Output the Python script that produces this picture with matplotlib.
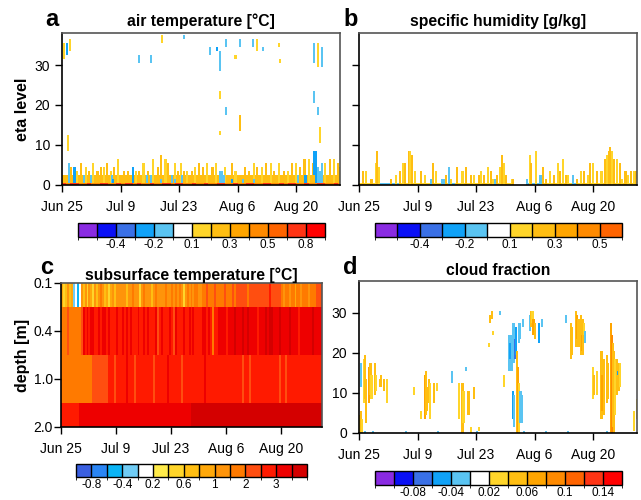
import numpy as np
import matplotlib
matplotlib.use('Agg')
import matplotlib.pyplot as plt
import matplotlib.dates as mdates
from matplotlib.colors import ListedColormap, BoundaryNorm
from matplotlib.cm import ScalarMappable
from datetime import datetime

plt.rcParams['font.family'] = ['Liberation Sans', 'DejaVu Sans']
plt.rcParams['axes.unicode_minus'] = False

# --- time axis (6-hourly steps from Jun 25) ---
start = datetime(2016, 6, 25)
span_days = 66.5
n_steps = 266
tick_dates = ['2016-06-25', '2016-07-09', '2016-07-23', '2016-08-06', '2016-08-20']
tick_labels = ['Jun 25', 'Jul 9', 'Jul 23', 'Aug 6', 'Aug 20']
n_levels = 39

# --- colour scales ---
cols_13 = ['#8A2BE2', '#0A10F5', '#3A70E6', '#10A2F8', '#5AC4F2', '#FFFFFF',
           '#FFD52A', '#FFBE12', '#FFA500', '#FF8A00', '#FF6400', '#FF3414', '#FF0000']
bounds_a = [-0.6, -0.5, -0.4, -0.3, -0.2, -0.1, 0.1, 0.2, 0.3, 0.4, 0.5, 0.6, 0.8, 1.0]
ticks_a = [-0.4, -0.2, 0.1, 0.3, 0.5, 0.8]
bounds_b = [-0.6, -0.5, -0.4, -0.3, -0.2, -0.1, 0.1, 0.2, 0.3, 0.4, 0.5, 0.6]
ticks_b = [-0.4, -0.2, 0.1, 0.3, 0.5]
cols_c = ['#3A5FE0', '#2A85F5', '#0AB4F5', '#70CCF5', '#FFFFFF', '#FFEB4A', '#FFD52A',
          '#FFBE12', '#FFA80A', '#FF940A', '#FF7A00', '#FF4E10', '#FF1A00', '#EE0000', '#D40000']
bounds_c = [-1.0, -0.8, -0.6, -0.4, -0.2, 0.2, 0.4, 0.6, 0.8, 1.0, 1.5, 2.0, 2.5, 3.0, 3.5, 4.0]
ticks_c = [-0.8, -0.4, 0.2, 0.6, 1.0, 2.0, 3.0]
labels_c = ['-0.8', '-0.4', '0.2', '0.6', '1', '2', '3']
bounds_d = [-0.12, -0.1, -0.08, -0.06, -0.04, -0.02, 0.02, 0.04, 0.06, 0.08, 0.1, 0.12, 0.14, 0.16]
ticks_d = [-0.08, -0.04, 0.02, 0.06, 0.1, 0.14]
labels_d = ['-0.08', '-0.04', '0.02', '0.06', '0.1', '0.14']

# --- panel a: air temperature difference ---
a_sfc = "rorrooroorroororrorooroorrorroorooroorrooroorroorroororrooroorrooror"
a_sfc_val = {'o': 0.45, 'r': 0.7}
a_band_val = 0.25
a_bar_step = [8, 13, 17, 22, 25, 29, 33, 36, 39, 42, 46, 49, 53, 58, 62, 70, 73, 77, 81, 86,
              91, 94, 98, 100, 107, 110, 113, 116, 119, 123, 126, 130, 134, 138, 143, 146, 151,
              155, 162, 165, 174, 178, 183, 186, 190, 194, 199, 202, 207, 211, 215, 219, 223,
              227, 231, 235, 239, 251, 255, 259, 263, 265]
a_bar_top = [4, 3, 5, 4, 3, 5, 3, 4, 4, 5, 3, 4, 6, 3, 3, 3, 3, 5, 3, 6,
             4, 7, 6, 5, 5, 3, 5, 3, 3, 3, 4, 5, 4, 5, 4, 5, 3,
             4, 5, 3, 4, 3, 5, 4, 4, 5, 5, 3, 5, 3, 3, 5, 5,
             4, 6, 6, 5, 5, 6, 6, 5, 4]
a_bar_tone = "21212122121212212121221212121212212121212212121212121221212121"
a_cool_step = [6, 11, 20, 27, 47, 48, 67, 80, 84, 94, 104, 107, 114, 150, 152, 154, 162,
               172, 183, 225, 232, 242, 244, 246, 248]
a_cool_top = [5, 4, 2, 2, 2, 1, 4, 2, 2, 1, 2, 1, 2, 3, 3, 2, 1, 1, 1, 2, 2, 8, 4, 3, 5]
a_cool_val = [-0.15, -0.25, -0.15, -0.15, -0.15, -0.25, -0.25, -0.15, -0.15, -0.15, -0.15,
              -0.15, -0.15, -0.15, -0.15, -0.15, -0.25, -0.15, -0.15, -0.15, -0.25, -0.25,
              -0.15, -0.15, -0.15]
a_up_day = [0.25, 1.2, 1.9, 1.45, 18.4, 21.1, 23.9, 29.2, 35.4, 36.8, 37.6, 37.6, 37.6, 39.0,
            39.0, 41.4, 42.3, 42.3, 45.5, 46.7, 47.8, 51.9, 52.2, 60.0, 60.0, 61.0, 61.2,
            62.0, 61.7, 60.0]
a_up_lo = [32, 33, 34, 9, 31, 31, 36, 37, 33, 34, 29, 22, 13, 18, 35, 32, 35, 14, 35, 34, 34,
           35, 31, 31, 21, 18, 30, 30, 11, 3]
a_up_hi = [35, 35, 36, 12, 32, 32, 37, 37, 34, 34, 33, 23, 13, 19, 36, 32, 36, 17, 36, 36, 34,
           35, 31, 35, 23, 19, 35, 34, 14, 8]
a_up_val = [0.15, -0.25, 0.12, 0.12, -0.15, -0.15, 0.15, -0.15, -0.15, -0.25, -0.15, 0.15,
            0.12, -0.15, -0.15, 0.15, -0.15, 0.25, -0.15, 0.15, -0.15, 0.15, 0.15, -0.15,
            -0.15, -0.15, 0.15, -0.15, 0.12, -0.25]

# --- panel b: specific humidity difference ---
b_sfc = "yyyyybbbbbyyyyyyybyybybyyyyyyyyyyyyyy---bbbyyyyyyyybyyyyyyyyyyyyyyy"
b_sfc_val = {'y': 0.15, 'b': -0.15}
b_bar_step = [3, 6, 11, 15, 16, 18, 30, 34, 38, 41, 43, 47, 48, 50, 53, 58, 62, 70, 73, 82,
              87, 93, 98, 101, 106, 109, 114, 116, 119, 122, 125, 127, 131, 134, 136, 138,
              140, 145, 146, 163, 164, 168, 175, 178, 182, 186, 189, 191, 194, 197, 199, 208,
              211, 214, 218, 220, 223, 227, 231, 234, 236, 238, 239, 241, 243, 246, 249, 251,
              254, 256, 259, 262, 264, 265]
b_bar_top = [3, 3, 1, 5, 8, 4, 1, 2, 3, 5, 5, 8, 8, 7, 3, 3, 2, 5, 3, 2,
             1, 4, 3, 4, 2, 2, 2, 3, 2, 4, 3, 1, 2, 4, 7, 5,
             2, 1, 1, 7, 5, 8, 4, 1, 3, 2, 5, 3, 6, 2, 2, 1,
             3, 3, 2, 5, 5, 3, 3, 6, 7, 8, 9, 8, 6, 6, 5, 1,
             3, 2, 3, 3, 3, 1]
b_bar_tone = "21212121212212121212121221212121212121212122121212121212121212212121212121"
b_cool_step = [68, 78, 80, 85, 129, 160, 172, 173, 204]
b_cool_top = [1, 1, 1, 4, 1, 1, 2, 2, 2]

# --- panel c: subsurface temperature difference (half-day columns) ---
c_layer0 = ("86797" "83424" "9796986979a97868979" "9999799a99969a99979a9999a99a9"
            "a9a969a9a9aa99" "aabaaabaaaabaaaba" "bbbbbbabbbbbb" "bbbbcbbbbb"
            "a9aa9aa8aa9aaa9aaabbb")
c_layer1 = ("aaabaaaaaab" "dcdcddccdcddcdcccdccdcdcdcccdc"
            "cdcdcccdbcdcccdcbdcccdccdcdccccddcdcaccd"
            "dddcdddedddeddeddddcdddedeedddeddddeddddcddddddedddd")
c_layer2 = ("aaaaaaaaaaaaaaaa" "bbbbbbbb"
            "cccbcccccdcccbcccccccccbccccccdccccccbcccccccccccdcccccccccccc"
            "ccccccbcccbccccccccccccccbccbcccccccccccccccccc")
c_layer3 = "c" * 9 + "d" * 57 + "e" * 67
c_depth_labels = ['0.1', '0.4', '1.0', '2.0']
c_class_chars = "0123456789abcde"

# --- panel d: cloud fraction difference ---
d_step = [0, 1, 1, 2, 4, 5, 6, 9, 10, 11, 14, 15, 19, 20, 23, 26,
          52, 58, 62, 63, 64, 66, 67, 71, 74,
          88, 95, 98, 99, 101, 103, 104, 106, 109, 114,
          123, 124, 126, 127, 134,
          138, 143, 144, 145, 146, 147, 148, 149, 150, 151, 152, 146, 147, 153, 154, 155,
          152, 153, 156,
          163, 164, 165, 166, 167, 171, 174,
          197, 202, 203, 207, 208, 209, 211, 212, 213, 214, 215,
          223, 224, 227, 231, 232, 233, 236, 237, 240, 241, 242, 243, 244, 246, 247, 248,
          249, 262, 265,
          5, 12, 44, 75, 112, 157, 178, 199, 236]
d_lo = [0, 0, 12, 0, 8, 9, 3, 8, 10, 9, 10, 11, 12, 12, 11, 8,
        10, 4, 4, 5, 6, 8, 4, 8, 11,
        13, 4, 0, 3, 16, 5, 5, 0, 9, 1,
        22, 28, 29, 25, 30,
        12, 16, 19, 16, 18, 18, 19, 20, 0, 0, 0, 4, 2, 3, 3, 3,
        23, 24, 27,
        26, 27, 28, 25, 24, 23, 27,
        28, 19, 20, 22, 24, 22, 20, 21, 20, 25, 23,
        9, 10, 10, 4, 6, 5, 8, 9, 0, 0, 2, 0, 5, 10, 15, 11,
        12, 1, 4,
        0, 0, 0, 0, 0, 0, 0, 0, 0]
d_hi = [4, 5, 17, 3, 18, 19, 13, 16, 17, 14, 17, 14, 13, 14, 13, 13,
        11, 5, 14, 15, 11, 13, 12, 12, 12,
        15, 12, 12, 10, 16, 10, 10, 1, 11, 1,
        22, 29, 30, 25, 30,
        14, 24, 22, 24, 27, 27, 23, 26, 20, 16, 12, 10, 9, 10, 10, 9,
        27, 27, 28,
        29, 30, 30, 28, 27, 27, 28,
        29, 27, 26, 30, 29, 28, 29, 24, 28, 27, 25,
        16, 14, 15, 20, 14, 18, 19, 17, 27, 24, 22, 20, 18, 18, 15, 17,
        17, 5, 8,
        0, 0, 0, 0, 0, 0, 0, 0, 0]
d_val = [0.03, 0.05, -0.03, 0.03, 0.03, 0.05, 0.05, 0.07, 0.05, 0.03, 0.05, 0.03, 0.05, 0.05,
         0.05, 0.03,
         0.03, 0.03, 0.07, 0.05, 0.05, 0.05, 0.03, 0.05, 0.03,
         -0.03, 0.03, 0.05, 0.03, -0.03, 0.05, 0.05, 0.03, 0.05, 0.03,
         0.03, 0.05, 0.05, 0.03, -0.03,
         0.03, -0.03, -0.05, -0.03, -0.03, -0.03, -0.07, -0.05, 0.05, 0.07, 0.03, -0.05, -0.03,
         -0.03, -0.03, -0.03,
         -0.03, -0.03, -0.03,
         -0.03, 0.05, 0.03, 0.07, 0.05, -0.05, -0.03,
         -0.03, 0.05, 0.05, 0.05, 0.07, 0.05, 0.05, 0.07, 0.05, 0.03, -0.03,
         0.03, 0.05, 0.03, 0.05, 0.07, 0.05, 0.05, 0.05, 0.07, 0.09, 0.05, 0.05, 0.03, 0.05,
         -0.05, 0.05,
         0.03, 0.03, 0.03,
         -0.03, -0.03, -0.03, -0.03, -0.03, -0.03, -0.03, -0.03, -0.03]

# ---------------------------------------------------------------
t0 = mdates.date2num(start)
x_edges = t0 + np.arange(n_steps + 1) * 0.25
y_edges = np.arange(n_levels + 1) - 0.5
tick_pos = [mdates.date2num(datetime.strptime(d, '%Y-%m-%d')) for d in tick_dates]


def make_grid():
    return np.full((n_levels, n_steps), np.nan)


# panel a field
A = make_grid()
for d, ch in enumerate(a_sfc):
    A[0, d * 4:(d + 1) * 4] = a_sfc_val[ch]
A[1:3, :] = a_band_val
for s, h, tn in zip(a_bar_step, a_bar_top, a_bar_tone):
    A[1:h + 1, s:s + 2] = 0.25 if tn == '2' else 0.15
for s, h, v in zip(a_cool_step, a_cool_top, a_cool_val):
    A[1:h + 1, s:s + 2] = v
for d, lo, hi, v in zip(a_up_day, a_up_lo, a_up_hi, a_up_val):
    s = int(d * 4)
    A[lo:hi + 1, s:s + 2] = v

# panel b field
B = make_grid()
for d, ch in enumerate(b_sfc):
    if ch in b_sfc_val:
        B[0, d * 4:(d + 1) * 4] = b_sfc_val[ch]
for s, h, tn in zip(b_bar_step, b_bar_top, b_bar_tone):
    B[0:h + 1, s:s + 2] = 0.25 if tn == '2' else 0.15
for s, h in zip(b_cool_step, b_cool_top):
    B[0:h + 1, s:s + 2] = -0.15

# panel d field
D = make_grid()
for s, lo, hi, v in zip(d_step, d_lo, d_hi, d_val):
    D[lo:hi + 1, s:s + 2] = v

fig = plt.figure(figsize=(6.41, 5.0), dpi=100)


def style_axes(ax):
    for side in ['top', 'right']:
        ax.spines[side].set_color('#555555')
    for side in ['left', 'bottom']:
        ax.spines[side].set_color('black')
    for sp in ax.spines.values():
        sp.set_linewidth(1.2)
    ax.tick_params(direction='out', length=5, width=1, labelsize=10, top=False, right=False)
    ax.tick_params(axis='x', pad=6)
    ax.set_xlim(t0, t0 + span_days)
    ax.set_xticks(tick_pos)
    ax.set_xticklabels(tick_labels)


def add_cbar(rect, colors, bounds, ticks, labels):
    cax = fig.add_axes(rect)
    cmap = ListedColormap(colors)
    norm = BoundaryNorm(bounds, cmap.N)
    cb = fig.colorbar(ScalarMappable(norm=norm, cmap=cmap), cax=cax,
                      orientation='horizontal', drawedges=True, ticks=ticks)
    cb.set_ticklabels(labels)
    cb.outline.set_linewidth(1.0)
    cb.outline.set_edgecolor('black')
    cb.dividers.set_linewidth(1.0)
    cb.dividers.set_color('black')
    cax.tick_params(length=0, labelsize=8.5, pad=1.5)


def level_panel(rect, field, colors, bounds):
    ax = fig.add_axes(rect)
    cmap = ListedColormap(colors)
    norm = BoundaryNorm(bounds, cmap.N)
    ax.pcolormesh(x_edges, y_edges, field, cmap=cmap, norm=norm, shading='flat',
                  antialiased=False, edgecolors='none')
    ax.set_ylim(0, 38)
    ax.set_yticks([0, 10, 20, 30])
    style_axes(ax)
    return ax


# a
ax_a = level_panel([62 / 641, 1 - 185 / 500, 278 / 641, 152 / 500], A, cols_13, bounds_a)
ax_a.set_title('air temperature [°C]', fontsize=11.3, fontweight='bold', pad=5)
ax_a.set_ylabel('eta level', fontsize=11.5, fontweight='bold')
ax_a.yaxis.set_label_coords(-0.115, 0.5)
add_cbar([78 / 641, 1 - 237 / 500, 247 / 641, 14 / 500], cols_13, bounds_a, ticks_a,
         [str(t) for t in ticks_a])

# b
ax_b = level_panel([359 / 641, 1 - 185 / 500, 278 / 641, 152 / 500], B, cols_13[:11], bounds_b)
ax_b.set_yticklabels([])
ax_b.set_title('specific humidity [g/kg]', fontsize=11.3, fontweight='bold', pad=5)
add_cbar([375 / 641, 1 - 237 / 500, 247 / 641, 14 / 500], cols_13[:11], bounds_b, ticks_b,
         [str(t) for t in ticks_b])

# c
ax_c = fig.add_axes([61 / 641, 1 - 427 / 500, 261 / 641, 144 / 500])
cmap_c = ListedColormap(cols_c)
norm_c = BoundaryNorm(bounds_c, cmap_c.N)
class_val = {ch: (bounds_c[k] + bounds_c[k + 1]) / 2 for k, ch in enumerate(c_class_chars)}
for r, layer in enumerate([c_layer0, c_layer1, c_layer2, c_layer3]):
    xe = t0 + np.linspace(0, span_days, len(layer) + 1)
    vals = np.array([[class_val[ch] for ch in layer]])
    ax_c.pcolormesh(xe, [r - 0.5, r + 0.5], vals, cmap=cmap_c, norm=norm_c, shading='flat',
                    antialiased=False, edgecolors='none')
ax_c.set_ylim(3, 0)
ax_c.set_yticks([0, 1, 2, 3])
ax_c.set_yticklabels(c_depth_labels)
style_axes(ax_c)
ax_c.tick_params(axis='y', pad=1)
ax_c.set_title('subsurface temperature [°C]', fontsize=11.3, fontweight='bold', pad=2)
ax_c.set_ylabel('depth [m]', fontsize=11.5, fontweight='bold')
ax_c.yaxis.set_label_coords(-0.119, 0.5)
add_cbar([76 / 641, 1 - 477 / 500, 231 / 641, 13 / 500], cols_c, bounds_c, ticks_c, labels_c)

# d
ax_d = level_panel([359 / 641, 1 - 433 / 500, 278 / 641, 152 / 500], D, cols_13, bounds_d)
ax_d.set_title('cloud fraction', fontsize=11.3, fontweight='bold', pad=4)
add_cbar([375 / 641, 1 - 485 / 500, 247 / 641, 14 / 500], cols_13, bounds_d, ticks_d, labels_d)

# panel letters
for letter, x, y in [('a', 45, 26), ('b', 343, 26), ('c', 40, 274), ('d', 343, 274)]:
    fig.text(x / 641, 1 - y / 500, letter, fontsize=17, fontweight='bold', va='baseline')

fig.savefig('out.png', dpi=100)
